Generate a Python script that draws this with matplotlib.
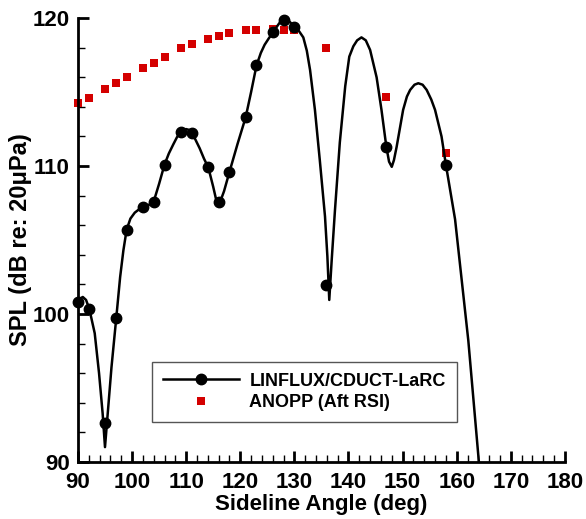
import numpy as np
import matplotlib.pyplot as plt
from matplotlib.lines import Line2D
from matplotlib.ticker import MultipleLocator

plt.rcParams['font.family'] = ['Liberation Sans', 'DejaVu Sans']
plt.rcParams['font.weight'] = 'bold'

# sampled angles (markers)
angles = [90, 92, 95, 97, 99, 102, 104, 106, 109, 111, 114, 116, 118,
          121, 123, 126, 128, 130, 135.9, 147, 158]
linflux = [100.8, 100.35, 92.6, 99.75, 105.7, 107.2, 107.6, 110.1, 112.3,
           112.25, 109.95, 107.6, 109.6, 113.3, 116.8, 119.05, 119.9, 119.4,
           101.95, 111.3, 110.1]
anopp = [114.25, 114.6, 115.2, 115.6, 116.0, 116.6, 117.0, 117.4, 118.0,
         118.25, 118.6, 118.8, 119.0, 119.2, 119.2, 119.25, 119.2, 119.2,
         118.0, 114.7, 110.9]

# fine-resolution LINFLUX curve
curve_x = [90.0, 90.4, 90.9, 91.5, 92.1, 93.1, 93.9, 94.56, 95.0, 95.4,
           96.2, 97.1, 97.8, 98.4, 99.0, 99.7, 100.5, 101.2, 102.1, 103.0,
           104.0, 105.0, 106.0, 106.8, 107.6, 108.3, 109.0, 109.5, 110.0,
           110.5, 111.0, 111.7, 112.5, 113.3, 114.1, 115.0, 115.5, 115.9,
           116.4, 117.0, 118.0, 119.5, 121.0, 122.0, 123.0, 123.8, 124.5,
           125.3, 126.0, 127.0, 127.6, 128.0, 128.5, 129.0, 130.0, 130.9,
           131.65, 132.3, 132.9, 133.8, 134.7, 135.66, 136.1, 136.45, 136.9,
           137.5, 138.4, 139.4, 140.15, 140.9, 141.6, 142.4, 143.2, 144.0,
           145.2, 146.1, 147.0, 147.5, 148.0, 148.4, 148.9, 150.1, 150.8,
           151.4, 152.2, 152.9, 153.7, 154.45, 155.3, 156.0, 157.2, 158.0,
           159.7, 162.15, 164.1, 164.5]
curve_y = [100.8, 101.05, 101.15, 100.95, 100.35, 98.7, 96.0, 93.3, 91.0,
           92.8, 96.4, 99.8, 102.5, 104.3, 105.7, 106.45, 106.85, 107.05,
           107.2, 107.35, 107.6, 108.8, 110.1, 110.85, 111.45, 111.95, 112.3,
           112.45, 112.5, 112.45, 112.25, 111.8, 111.2, 110.5, 109.9, 108.6,
           107.8, 107.5, 107.7, 108.3, 109.6, 111.5, 113.3, 115.0, 116.8,
           117.65, 118.2, 118.65, 119.0, 119.55, 119.85, 119.95, 119.95,
           119.8, 119.45, 119.1, 118.7, 117.8, 116.5, 113.8, 110.4, 106.6,
           103.9, 100.95, 103.65, 107.0, 111.6, 115.4, 117.4, 118.1, 118.5,
           118.7, 118.5, 117.85, 116.0, 113.8, 111.3, 110.3, 109.95, 110.4,
           111.3, 113.8, 114.7, 115.15, 115.5, 115.6, 115.5, 115.15, 114.5,
           113.8, 112.0, 110.1, 106.4, 98.2, 90.0, 88.0]

fig = plt.figure(figsize=(5.86, 5.19), dpi=100)
ax = fig.add_axes([0.133, 0.110, 0.831, 0.855])

ax.plot(angles, anopp, linestyle='none', marker='s', markersize=5.5,
        color='#d40000', markeredgewidth=0, clip_on=False)
ax.plot(curve_x, curve_y, color='black', linewidth=1.8)
ax.plot(angles, linflux, linestyle='none', marker='o', markersize=7.5,
        color='black', clip_on=False)

ax.set_xlim(90, 180)
ax.set_ylim(90, 120)
ax.xaxis.set_major_locator(MultipleLocator(10))
ax.xaxis.set_minor_locator(MultipleLocator(2))
ax.yaxis.set_major_locator(MultipleLocator(10))
ax.yaxis.set_minor_locator(MultipleLocator(2))
ax.tick_params(which='major', direction='in', length=8, width=2,
               labelsize=16)
ax.tick_params(axis='x', which='major', pad=7)
ax.tick_params(axis='y', which='major', pad=6)
ax.tick_params(which='minor', direction='in', length=5, width=1)
for s in ['top', 'right']:
    ax.spines[s].set_visible(False)
for s in ['left', 'bottom']:
    ax.spines[s].set_linewidth(2)

ax.set_xlabel('Sideline Angle (deg)', fontsize=16, fontweight='bold', labelpad=1)
ax.set_ylabel('SPL (dB re: 20\u03bcPa)', fontsize=17, fontweight='bold', labelpad=0)

handles = [Line2D([], [], color='black', linewidth=1.8, marker='o', markersize=7.5),
           Line2D([], [], linestyle='none', marker='s', markersize=5.5,
                  color='#d40000', markeredgewidth=0)]
leg = ax.legend(handles, ['LINFLUX/CDUCT-LaRC', 'ANOPP (Aft RSI)'],
                loc='lower left', bbox_to_anchor=(0.152, 0.09),
                fancybox=False, framealpha=1, edgecolor='#555555',
                prop={'size': 13, 'weight': 'bold'}, handlelength=4.2,
                borderpad=0.6, labelspacing=0.25, borderaxespad=0,
                handletextpad=0.6)
leg.get_frame().set_linewidth(1)

fig.savefig('out.png', dpi=100)
